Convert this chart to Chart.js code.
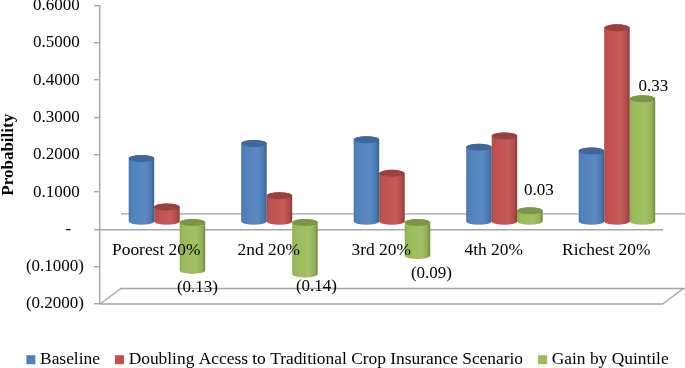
<!DOCTYPE html>
<html>
<head>
<meta charset="utf-8">
<style>html,body{margin:0;padding:0;background:#fff}canvas{display:block}</style>
<script src="https://cdn.jsdelivr.net/npm/chart.js@4/dist/chart.umd.js"></script>
</head>
<body>
<canvas id="c" width="685" height="368"></canvas>
<script>
const categories = ["Poorest 20%", "2nd 20%", "3rd 20%", "4th 20%", "Richest 20%"];
const baseline = [0.17, 0.21, 0.22, 0.20, 0.19];
const scenario = [0.04, 0.07, 0.13, 0.23, 0.52];
const gain = [-0.13, -0.14, -0.09, 0.03, 0.33];
const seriesNames = ["Baseline", "Doubling Access to Traditional Crop Insurance Scenario", "Gain by Quintile"];
const seriesColors = ["#4f81bd", "#c0504d", "#9bbb59"];
const gainLabelShift = [[5, 17.5], [11.5, 12], [14, 18], [9, -20], [11, -12]];

const FONT = "'Liberation Serif','Times New Roman',serif";
const AXIS = "#a6a6a6";
const PLOT_TOP = 5.5, PLOT_BOTTOM = 304;
const DEPTH_X = 10.7, DEPTH_Y = -7.5, WALL_X = 21, WALL_Y = -15.5, CAP = 3.5;

function shade(hex, f) {
  const n = parseInt(hex.slice(1), 16);
  const ch = [n >> 16 & 255, n >> 8 & 255, n & 255].map(v =>
    Math.round(f < 0 ? v * (1 + f) : v + (255 - v) * f));
  return `rgb(${ch[0]},${ch[1]},${ch[2]})`;
}

/* every bar keeps the library's own x/y/base/width; only its look becomes a cylinder */
Chart.BarElement.prototype.draw = function (ctx) {
  const col = this.options.backgroundColor;
  const cx = this.x + DEPTH_X, rx = this.width / 2;
  const top = Math.min(this.y, this.base) + DEPTH_Y;
  const bot = Math.max(this.y, this.base) + DEPTH_Y;
  const g = ctx.createLinearGradient(cx - rx, 0, cx + rx, 0);
  g.addColorStop(0, shade(col, -0.08));
  g.addColorStop(0.12, col);
  g.addColorStop(0.65, shade(col, 0.07));
  g.addColorStop(0.88, shade(col, -0.06));
  g.addColorStop(1, shade(col, -0.28));
  ctx.save();
  ctx.beginPath();
  ctx.moveTo(cx - rx, top);
  ctx.lineTo(cx - rx, bot);
  ctx.ellipse(cx, bot, rx, CAP, 0, Math.PI, 0, true);
  ctx.lineTo(cx + rx, top);
  ctx.ellipse(cx, top, rx, CAP, 0, 0, Math.PI, true);
  ctx.closePath();
  ctx.fillStyle = g;
  ctx.fill();
  ctx.beginPath();
  ctx.ellipse(cx, top, rx, CAP, 0, 0, Math.PI * 2);
  ctx.fillStyle = shade(col, -0.2);
  ctx.fill();
  ctx.restore();
};

const frame = {
  id: "frame",
  beforeLayout(chart) {
    const lg = chart.legend;
    if (!lg.wideFit) {
      const fit = lg.fit;
      lg.fit = function () { this.maxWidth = 720; fit.call(this); };
      lg.wideFit = true;
    }
  },
  afterLayout(chart) {
    const lg = chart.legend;
    lg.top = 332;
    lg.bottom = 387;
    lg.left = 7;
    lg.right = 692;
    const y = chart.scales.y, area = chart.chartArea;
    y.top = PLOT_TOP;
    y.bottom = PLOT_BOTTOM;
    y.height = PLOT_BOTTOM - PLOT_TOP;
    y.configure();
    area.top = PLOT_TOP;
    area.bottom = PLOT_BOTTOM;
    area.height = PLOT_BOTTOM - PLOT_TOP;
  },
  beforeDatasetsDraw(chart) {
    const { ctx, scales: { x, y } } = chart;
    const floor = y.getPixelForValue(-0.2), zero = y.getPixelForValue(0);
    ctx.save();
    ctx.strokeStyle = AXIS;
    ctx.lineWidth = 1.4;
    ctx.beginPath();
    ctx.moveTo(x.left + WALL_X, zero + WALL_Y);
    ctx.lineTo(x.right + WALL_X + 10, zero + WALL_Y);
    ctx.moveTo(x.left, floor);
    ctx.lineTo(x.left + WALL_X, floor + WALL_Y);
    ctx.lineTo(x.right + WALL_X + 10, floor + WALL_Y);
    ctx.moveTo(x.left, floor);
    ctx.lineTo(x.right, floor);
    ctx.lineTo(x.right + WALL_X, floor + WALL_Y);
    ctx.stroke();
    ctx.restore();
  },
  afterDatasetsDraw(chart) {
    const { ctx } = chart;
    const meta = chart.getDatasetMeta(2);
    ctx.save();
    ctx.fillStyle = "#000";
    ctx.font = "17px " + FONT;
    ctx.textAlign = "center";
    ctx.textBaseline = "middle";
    gain.forEach((v, i) => {
      const el = meta.data[i];
      const txt = v < 0 ? "(" + Math.abs(v).toFixed(2) + ")" : v.toFixed(2);
      ctx.fillText(txt, el.x + DEPTH_X + gainLabelShift[i][0], el.y + DEPTH_Y + gainLabelShift[i][1]);
    });
    ctx.restore();
  }
};

function yTick(v) {
  const r = Math.round(v * 10) / 10;
  if (r === 0) return "-\u00a0\u00a0\u00a0";
  return r < 0 ? "(" + Math.abs(r).toFixed(4) + ")" : r.toFixed(4) + "\u00a0";
}

new Chart(document.getElementById("c"), {
  type: "bar",
  data: {
    labels: categories,
    datasets: [baseline, scenario, gain].map((d, i) => ({
      label: seriesNames[i],
      data: d,
      backgroundColor: seriesColors[i],
      borderWidth: 0,
      categoryPercentage: 0.68,
      barPercentage: 1
    }))
  },
  options: {
    responsive: false,
    animation: false,
    layout: { autoPadding: false, padding: { left: 0, top: 5.5, right: 22.5, bottom: 18 } },
    plugins: {
      tooltip: { enabled: false },
      legend: {
        position: "bottom",
        labels: {
          usePointStyle: true,
          pointStyle: "rect",
          boxWidth: 1,
          boxHeight: 9,
          padding: 19,
          color: "#000",
          font: { family: FONT, size: 17.4 }
        }
      }
    },
    scales: {
      x: {
        position: { y: 0 },
        afterFit(s) { s.height = 0; },
        grid: { display: false, drawTicks: false },
        border: { display: true, color: AXIS, width: 1.4 },
        ticks: { z: 1, color: "#000", padding: 11, maxRotation: 0, autoSkip: false, font: { family: FONT, size: 17.4 } }
      },
      y: {
        min: -0.2,
        max: 0.6,
        afterFit(s) { s.width = 100; },
        grid: { display: true, drawOnChartArea: false, drawTicks: true, tickLength: 6, color: AXIS, lineWidth: 1.4 },
        border: { display: true, color: AXIS, width: 1.4 },
        ticks: { stepSize: 0.1, color: "#000", padding: 10, callback: yTick, font: { family: FONT, size: 17 } },
        title: { display: true, text: "Probability", color: "#000", padding: 0, font: { family: FONT, size: 17, weight: "bold", lineHeight: 1 } }
      }
    }
  },
  plugins: [frame]
});
</script>
</body>
</html>
